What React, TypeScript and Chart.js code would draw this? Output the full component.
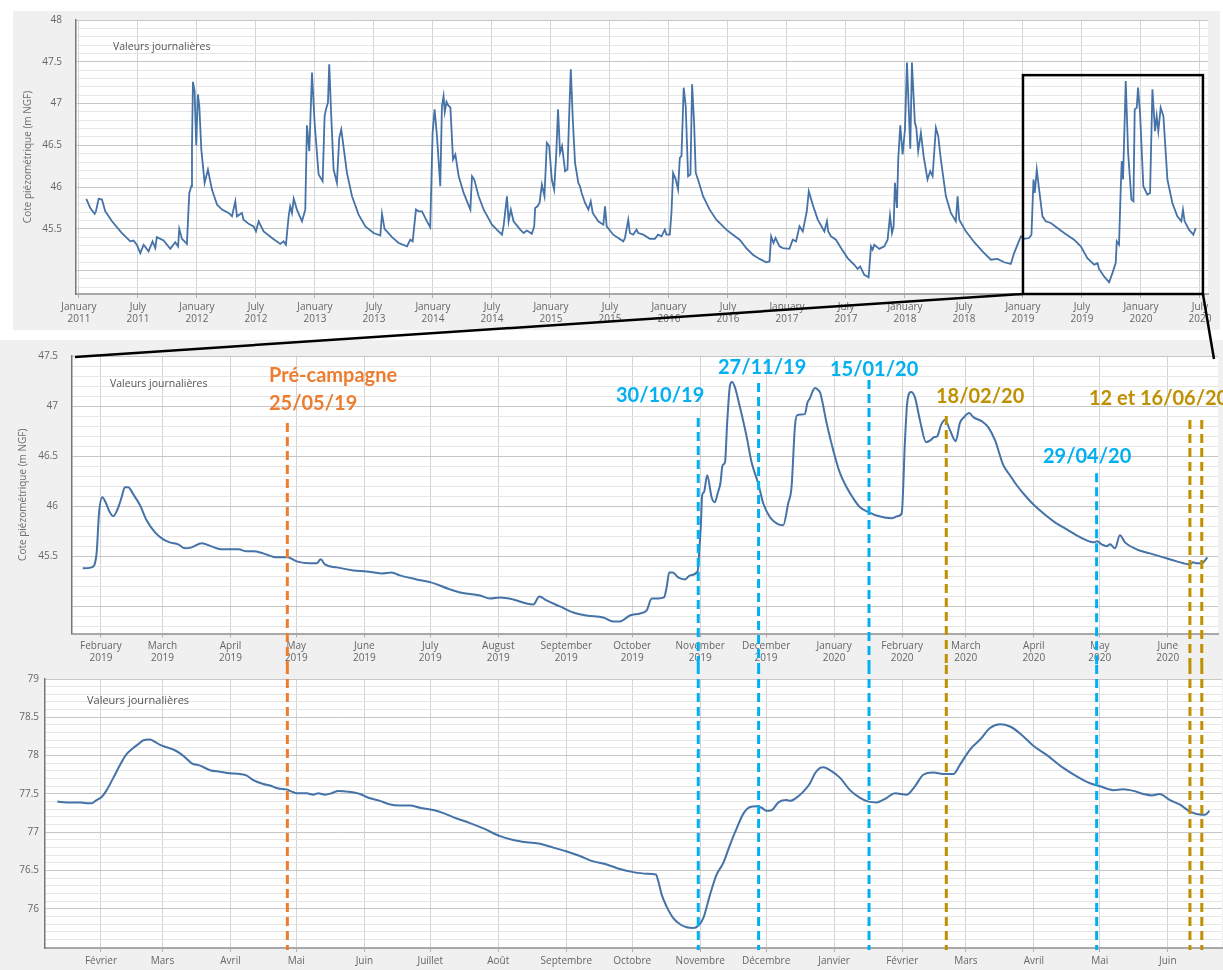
import React, { useEffect, useRef } from 'react';
import { Chart, registerables } from 'chart.js';

Chart.register(...registerables);

const FONT = '"Open Sans", "DejaVu Sans", sans-serif';
Chart.defaults.font.family = FONT;

// ---------------- Top chart: daily levels 2011–2020 (x = decimal year) ----------------
const topYears = [
  2011.062, 2011.096, 2011.133, 2011.144, 2011.167, 2011.195, 2011.223, 2011.28, 2011.364, 2011.435, 2011.463, 2011.49, 2011.52, 2011.548, 2011.59, 2011.624, 2011.647, 2011.66, 2011.717, 2011.774, 2011.816, 2011.84, 2011.85, 2011.873, 2011.915, 2011.935, 2011.952, 2011.958, 2011.966, 2011.98, 2011.994,
  2012.008, 2012.02, 2012.037, 2012.065, 2012.093, 2012.127, 2012.17, 2012.212, 2012.268, 2012.297, 2012.325, 2012.339, 2012.381, 2012.395, 2012.438, 2012.48, 2012.5, 2012.523, 2012.565, 2012.636, 2012.706, 2012.734, 2012.754, 2012.777, 2012.79, 2012.805, 2012.82, 2012.847, 2012.89, 2012.918, 2012.932, 2012.952, 2012.975, 2012.997,
  2013.031, 2013.065, 2013.082, 2013.093, 2013.11, 2013.121, 2013.138, 2013.158, 2013.186, 2013.206, 2013.223, 2013.234, 2013.271, 2013.314, 2013.37, 2013.427, 2013.497, 2013.554, 2013.568, 2013.59, 2013.653, 2013.709, 2013.78, 2013.808, 2013.828, 2013.856, 2013.879, 2013.907, 2013.949, 2013.977, 2013.997,
  2014.014, 2014.034, 2014.062, 2014.076, 2014.09, 2014.1, 2014.115, 2014.128, 2014.148, 2014.17, 2014.19, 2014.218, 2014.26, 2014.317, 2014.331, 2014.35, 2014.387, 2014.43, 2014.5, 2014.556, 2014.585, 2014.6, 2014.627, 2014.641, 2014.66, 2014.683, 2014.74, 2014.768, 2014.796, 2014.838, 2014.858, 2014.866, 2014.886, 2014.903, 2014.923, 2014.945, 2014.965, 2014.985,
  2015.007, 2015.027, 2015.044, 2015.06, 2015.077, 2015.094, 2015.12, 2015.14, 2015.156, 2015.168, 2015.185, 2015.204, 2015.232, 2015.246, 2015.26, 2015.289, 2015.317, 2015.337, 2015.354, 2015.401, 2015.444, 2015.458, 2015.472, 2015.528, 2015.57, 2015.613, 2015.627, 2015.655, 2015.669, 2015.697, 2015.725, 2015.739, 2015.782, 2015.838, 2015.88, 2015.908, 2015.937, 2015.965, 2015.979,
  2016.007, 2016.021, 2016.035, 2016.058, 2016.077, 2016.092, 2016.106, 2016.125, 2016.142, 2016.162, 2016.182, 2016.196, 2016.213, 2016.227, 2016.246, 2016.289, 2016.345, 2016.401, 2016.444, 2016.486, 2016.542, 2016.599, 2016.655, 2016.711, 2016.768, 2016.824, 2016.852, 2016.866, 2016.886, 2016.903, 2016.937, 2016.965,
  2017.021, 2017.049, 2017.077, 2017.106, 2017.134, 2017.168, 2017.185, 2017.218, 2017.261, 2017.317, 2017.339, 2017.35, 2017.373, 2017.415, 2017.458, 2017.514, 2017.571, 2017.599, 2017.621, 2017.655, 2017.692, 2017.712, 2017.726, 2017.74, 2017.782, 2017.825, 2017.853, 2017.873, 2017.89, 2017.904, 2017.915, 2017.932, 2017.943, 2017.96, 2017.98,
  2018.0, 2018.017, 2018.045, 2018.059, 2018.084, 2018.096, 2018.112, 2018.135, 2018.158, 2018.191, 2018.214, 2018.234, 2018.262, 2018.282, 2018.304, 2018.347, 2018.389, 2018.431, 2018.446, 2018.46, 2018.516, 2018.587, 2018.657, 2018.728, 2018.784, 2018.841, 2018.897, 2018.925, 2018.954, 2018.982,
  2019.01, 2019.052, 2019.072, 2019.089, 2019.1, 2019.117, 2019.137, 2019.165, 2019.193, 2019.236, 2019.292, 2019.349, 2019.433, 2019.49, 2019.546, 2019.603, 2019.631, 2019.645, 2019.687, 2019.73, 2019.758, 2019.786, 2019.795, 2019.814, 2019.829, 2019.837, 2019.848, 2019.871, 2019.891, 2019.919, 2019.936, 2019.947, 2019.964, 2019.975, 2019.992,
  2020.02, 2020.054, 2020.077, 2020.097, 2020.119, 2020.133, 2020.147, 2020.167, 2020.19, 2020.224, 2020.266, 2020.308, 2020.342, 2020.356, 2020.37, 2020.407, 2020.444, 2020.464,
];
const topValues = [
  45.86, 45.75, 45.68, 45.71, 45.86, 45.85, 45.71, 45.59, 45.45, 45.35, 45.36, 45.31, 45.21, 45.31, 45.23, 45.35, 45.27, 45.40, 45.36, 45.26, 45.34, 45.29, 45.50, 45.38, 45.32, 45.93, 46.01, 46.49, 47.26, 47.15, 46.50,
  47.11, 46.97, 46.45, 46.05, 46.21, 45.97, 45.79, 45.73, 45.69, 45.65, 45.83, 45.65, 45.69, 45.61, 45.56, 45.53, 45.47, 45.59, 45.47, 45.39, 45.32, 45.35, 45.31, 45.65, 45.77, 45.69, 45.86, 45.73, 45.59, 45.73, 46.74, 46.43, 47.37, 46.77,
  46.15, 46.07, 46.85, 46.93, 47.01, 47.47, 46.85, 46.21, 46.05, 46.59, 46.69, 46.57, 46.17, 45.89, 45.67, 45.53, 45.45, 45.42, 45.68, 45.50, 45.40, 45.33, 45.29, 45.37, 45.35, 45.73, 45.71, 45.71, 45.59, 45.52, 46.65,
  46.93, 46.61, 46.01, 46.97, 47.09, 46.90, 47.02, 46.98, 46.95, 46.33, 46.39, 46.13, 45.93, 45.73, 46.13, 46.09, 45.89, 45.73, 45.55, 45.47, 45.43, 45.55, 45.89, 45.59, 45.73, 45.59, 45.49, 45.45, 45.48, 45.44, 45.53, 45.75, 45.77, 45.81, 46.03, 45.89, 46.53, 46.49,
  46.09, 45.97, 46.37, 46.93, 46.41, 46.49, 46.19, 46.21, 46.93, 47.41, 46.81, 46.29, 46.05, 46.01, 45.93, 45.81, 45.73, 45.83, 45.69, 45.59, 45.55, 45.77, 45.53, 45.43, 45.39, 45.35, 45.39, 45.61, 45.45, 45.43, 45.49, 45.45, 45.43, 45.38, 45.38, 45.43, 45.41, 45.49, 45.43,
  45.43, 45.69, 46.17, 46.09, 45.97, 46.35, 46.37, 47.19, 46.97, 46.13, 46.15, 47.23, 46.77, 46.17, 46.09, 45.89, 45.73, 45.61, 45.55, 45.49, 45.43, 45.37, 45.27, 45.19, 45.14, 45.10, 45.11, 45.41, 45.33, 45.39, 45.29, 45.27,
  45.26, 45.37, 45.35, 45.53, 45.47, 45.71, 45.95, 45.79, 45.61, 45.47, 45.59, 45.47, 45.41, 45.37, 45.27, 45.15, 45.07, 45.02, 45.05, 44.95, 44.92, 45.29, 45.25, 45.31, 45.26, 45.29, 45.37, 45.66, 45.45, 45.53, 46.05, 45.75, 46.33, 46.74, 46.39,
  46.69, 47.49, 46.46, 47.49, 46.77, 46.71, 46.43, 46.65, 46.37, 46.09, 46.19, 46.13, 46.71, 46.61, 46.33, 45.89, 45.69, 45.59, 45.89, 45.61, 45.47, 45.34, 45.23, 45.13, 45.14, 45.10, 45.08, 45.21, 45.31, 45.41,
  45.38, 45.39, 45.43, 46.09, 45.93, 46.21, 45.97, 45.65, 45.59, 45.57, 45.51, 45.45, 45.37, 45.29, 45.15, 45.07, 45.09, 45.02, 44.93, 44.86, 44.97, 45.09, 45.35, 45.31, 46.01, 46.31, 46.09, 47.27, 46.41, 45.85, 45.83, 46.93, 46.95, 47.19, 46.89,
  46.01, 45.91, 45.93, 47.17, 46.67, 46.85, 46.67, 46.95, 46.85, 46.09, 45.81, 45.65, 45.59, 45.73, 45.59, 45.49, 45.43, 45.51,
];
const topTickValues = [2011, 2011.5, 2012, 2012.5, 2013, 2013.5, 2014, 2014.5, 2015, 2015.5, 2016, 2016.5, 2017, 2017.5, 2018, 2018.5, 2019, 2019.5, 2020, 2020.5];
const topTickMonths = ['January', 'July', 'January', 'July', 'January', 'July', 'January', 'July', 'January', 'July', 'January', 'July', 'January', 'July', 'January', 'July', 'January', 'July', 'January', 'July'];
const topTickYears = ['2011', '2011', '2012', '2012', '2013', '2013', '2014', '2014', '2015', '2015', '2016', '2016', '2017', '2017', '2018', '2018', '2019', '2019', '2020', '2020'];
// zoom frame (Jan 2019 – Jul 2020)
const zoomFrom = 2019.0;
const zoomTo = 2020.525;
const zoomLow = 44.72;
const zoomHigh = 47.34;

// ---------------- Middle chart (x = days since 1 Jan 2019) ----------------
const midDays = [
  22.7, 26.8, 29.0, 30.1, 31.6, 33.3, 34.8, 36.6, 38.9, 40.4, 41.9, 43.4, 45.7, 48.8, 51.8, 55.6, 59.4, 62.4, 66.2, 69.3, 72.3, 76.9, 81.4, 86.0, 90.5, 93.6, 97.4, 100.4, 104.9, 111.0,
  115.9, 120.2, 126.2, 129.3, 131.1, 133.0, 138.4, 146.0, 152.0, 158.9, 163.4, 167.2, 174.8, 181.3, 190.0, 194.6, 203.7, 208.2, 212.8, 218.8, 224.9, 228.0, 230.7, 234.0, 240.1, 246.2, 252.2, 259.8, 264.4, 267.4,
  272.0, 276.6, 279.6, 281.9, 284.9, 287.5, 288.7, 289.9, 291.5, 294.0, 297.1, 299.3, 302.8, 303.5, 304.3, 304.9, 305.7, 307.2, 309.2, 310.6, 312.1, 313.2, 314.2, 315.3, 316.3, 317.6, 318.5, 319.8, 322.1, 325.2,
  327.4, 330.4, 332.7, 335.8, 338.8, 341.8, 344.1, 345.6, 347.2, 348.2, 351.7, 352.8, 354.0, 355.5, 356.3, 357.8, 358.7, 361.6, 364.6, 367.7, 370.7, 373.7, 376.8, 380.9, 385.5, 391.2, 393.8, 395.8, 397.3, 398.3,
  400.0, 401.8, 404.1, 406.9, 409.0, 410.5, 412.0, 413.7, 415.5, 417.8, 420.4, 422.3, 424.2, 426.6, 428.4, 432.2, 435.2, 438.3, 442.1, 445.1, 448.2, 451.9, 455.7, 460.3, 465.6, 471.0, 475.5, 480.1, 483.1, 484.9,
  486.9, 489.2, 490.7, 493.0, 495.2, 497.5, 502.8, 508.9, 515.0, 521.1, 527.1, 528.6, 530.2, 532.5, 534.0, 535.0,
];
const midValues = [
  45.38, 45.39, 45.53, 45.93, 46.09, 46.03, 45.95, 45.90, 45.99, 46.09, 46.19, 46.19, 46.12, 46.01, 45.86, 45.74, 45.67, 45.64, 45.62, 45.58, 45.59, 45.63, 45.60, 45.57, 45.57, 45.57, 45.55, 45.55, 45.53, 45.49,
  45.49, 45.45, 45.43, 45.43, 45.47, 45.42, 45.39, 45.36, 45.35, 45.33, 45.34, 45.31, 45.27, 45.24, 45.17, 45.14, 45.11, 45.08, 45.09, 45.07, 45.03, 45.02, 45.10, 45.06, 45.00, 44.94, 44.91, 44.89, 44.85, 44.85,
  44.91, 44.93, 44.96, 45.08, 45.08, 45.09, 45.19, 45.34, 45.34, 45.29, 45.27, 45.31, 45.35, 45.53, 45.81, 46.11, 46.14, 46.31, 46.09, 46.04, 46.14, 46.23, 46.41, 46.44, 46.84, 47.21, 47.24, 47.19, 46.99, 46.69,
  46.44, 46.23, 46.03, 45.89, 45.83, 45.81, 46.03, 46.19, 46.81, 46.91, 46.92, 47.03, 47.08, 47.16, 47.18, 47.16, 47.13, 46.83, 46.56, 46.33, 46.19, 46.08, 45.99, 45.94, 45.90, 45.88, 45.90, 45.93, 46.66, 47.03,
  47.14, 47.09, 46.86, 46.64, 46.66, 46.69, 46.70, 46.81, 46.86, 46.76, 46.65, 46.83, 46.89, 46.93, 46.89, 46.85, 46.79, 46.66, 46.41, 46.31, 46.21, 46.11, 46.02, 45.93, 45.84, 45.77, 45.71, 45.66, 45.64, 45.65,
  45.62, 45.60, 45.62, 45.58, 45.71, 45.64, 45.57, 45.53, 45.49, 45.45, 45.42, 45.44, 45.43, 45.43, 45.46, 45.49,
];
const midTickDays = [31, 59, 90, 120, 151, 181, 212, 243, 273, 304, 334, 365, 396, 425, 456, 486, 517];
const midTickMonths = ['February', 'March', 'April', 'May', 'June', 'July', 'August', 'September', 'October', 'November', 'December', 'January', 'February', 'March', 'April', 'May', 'June'];
const midTickYears = ['2019', '2019', '2019', '2019', '2019', '2019', '2019', '2019', '2019', '2019', '2019', '2020', '2020', '2020', '2020', '2020', '2020'];

// ---------------- Bottom chart (x = days since 1 Jan 2019) ----------------
const lowDays = [
  11.1, 15.4, 21.4, 24.5, 26.8, 29.0, 31.3, 33.6, 36.6, 39.7, 42.4, 45.7, 48.0, 50.3, 53.3, 55.6, 57.9, 60.9, 63.9, 67.0, 70.0, 72.3, 76.1, 80.7, 85.2, 89.8, 94.3, 97.4, 100.4, 104.9,
  108.0, 111.8, 115.6, 117.1, 120.2, 124.7, 127.7, 130.0, 133.1, 136.1, 139.1, 143.7, 149.0, 152.8, 158.1, 161.9, 167.2, 171.8, 176.3, 182.4, 187.0, 193.1, 199.1, 205.2, 212.8, 218.8, 224.9, 231.0, 237.1, 243.2,
  249.2, 255.3, 261.4, 267.4, 273.5, 279.6, 283.8, 284.9, 286.4, 288.7, 291.7, 294.8, 297.8, 300.8, 303.1, 305.4, 308.5, 311.5, 314.5, 317.6, 320.6, 323.6, 326.7, 329.7, 332.0, 334.3, 336.6, 339.6, 343.4, 344.9,
  348.7, 352.5, 354.0, 356.3, 358.6, 360.1, 363.1, 367.7, 372.2, 376.8, 380.6, 384.4, 389.0, 392.7, 398.1, 401.8, 405.6, 410.2, 414.7, 419.3, 422.3, 426.9, 431.5, 436.0, 440.6, 445.1, 449.7, 455.7, 461.8, 469.4,
  475.5, 481.6, 486.1, 492.2, 496.7, 501.3, 505.9, 509.7, 513.2, 518.0, 522.6, 527.1, 532.5, 534.0, 536.0,
];
const lowValues = [
  77.40, 77.39, 77.39, 77.38, 77.38, 77.42, 77.46, 77.55, 77.71, 77.88, 78.01, 78.10, 78.15, 78.20, 78.21, 78.18, 78.14, 78.11, 78.08, 78.03, 77.96, 77.90, 77.87, 77.81, 77.79, 77.77, 77.76, 77.74, 77.68, 77.63,
  77.61, 77.57, 77.56, 77.54, 77.51, 77.51, 77.49, 77.51, 77.49, 77.51, 77.54, 77.53, 77.50, 77.45, 77.41, 77.37, 77.35, 77.35, 77.32, 77.29, 77.25, 77.18, 77.12, 77.05, 76.95, 76.90, 76.87, 76.85, 76.80, 76.75,
  76.69, 76.62, 76.58, 76.52, 76.48, 76.46, 76.45, 76.36, 76.19, 76.03, 75.88, 75.80, 75.76, 75.75, 75.78, 75.88, 76.19, 76.45, 76.60, 76.84, 77.05, 77.24, 77.33, 77.34, 77.32, 77.28, 77.29, 77.39, 77.42, 77.41,
  77.47, 77.58, 77.64, 77.77, 77.84, 77.85, 77.81, 77.71, 77.55, 77.45, 77.40, 77.39, 77.45, 77.51, 77.49, 77.60, 77.75, 77.78, 77.76, 77.76, 77.88, 78.08, 78.21, 78.36, 78.41, 78.38, 78.29, 78.13, 78.01, 77.84,
  77.73, 77.64, 77.60, 77.55, 77.56, 77.54, 77.50, 77.48, 77.50, 77.42, 77.36, 77.27, 77.23, 77.23, 77.28,
];
const lowTickMonths = ['Février', 'Mars', 'Avril', 'Mai', 'Juin', 'Juillet', 'Août', 'Septembre', 'Octobre', 'Novembre', 'Décembre', 'Janvier', 'Février', 'Mars', 'Avril', 'Mai', 'Juin'];

// ---------------- Field campaign markers (days since 1 Jan 2019) ----------------
const markerDays = [115.9, 303.1, 330.6, 380.9, 416.1, 484.6, 527.1, 532.5];
const markerKinds = ['pre', 'blue', 'blue', 'blue', 'gold', 'blue', 'gold', 'gold'];
const markerTopValues = [46.83, 46.88, 47.23, 47.26, 46.90, 46.33, 46.86, 46.86];
const markerTexts = ['Pré-campagne', '25/05/19', '30/10/19', '27/11/19', '15/01/20', '18/02/20', '29/04/20', '12 et 16/06/20'];
const markerTextKinds = ['pre', 'pre', 'blue', 'blue', 'blue', 'gold', 'blue', 'gold'];

const KIND_COLOR: Record<string, string> = { pre: '#ED7D31', blue: '#00B0F0', gold: '#BF9000' };
const LINE_COLOR = '#4572A7';
const PANEL_BG = '#f0f0f0';

// layout boxes (page pixels)
const TOP = { left: 13, top: 11, w: 1207, h: 319 };
const MID = { left: 0, top: 340, w: 1223, h: 325 };
const LOW = { left: 0, top: 665, w: 1223, h: 305 };
const TEXT_POS = [
  { left: 269, top: 362 }, { left: 269, top: 390 }, { left: 616, top: 382 }, { left: 718, top: 354 },
  { left: 830, top: 356 }, { left: 936, top: 383 }, { left: 1043, top: 443 }, { left: 1089, top: 385 },
];

function tenthTicks(min: number, max: number) {
  const out: number[] = [];
  for (let t = Math.ceil(min * 10 - 1e-6); t <= Math.floor(max * 10 + 1e-6); t++) out.push(t / 10);
  return out;
}
const isMajor = (v: number) => Math.round(v * 10) % 5 === 0;

function yScale(min: number, max: number, firstLabel: number, width: number, gap: number, titlePad: number | null) {
  const ticks = tenthTicks(min, max);
  return {
    type: 'linear',
    min,
    max,
    afterBuildTicks: (s: any) => { s.ticks = ticks.map((v) => ({ value: v })); },
    afterFit: (s: any) => { s.width = width; },
    ticks: {
      autoSkip: false,
      padding: 0,
      color: '#666',
      font: { family: FONT, size: 10 },
      callback: (v: any) => (isMajor(+v) && +v >= firstLabel - 1e-6 ? String(Math.round(+v * 10) / 10) : ''),
    },
    grid: {
      drawTicks: true,
      tickLength: gap,
      tickColor: 'rgba(0,0,0,0)',
      lineWidth: 1,
      color: (c: any) => (c.tick && isMajor(c.tick.value) ? '#c6c6c6' : '#e6e6e6'),
    },
    border: { color: '#777', width: 1.5 },
    title: titlePad === null
      ? { display: false }
      : {
          display: true,
          text: 'Cote piézométrique (m NGF)',
          color: '#707070',
          font: { family: FONT, size: 10 },
          padding: { top: titlePad, bottom: 0 },
        },
  };
}

function xScale(min: number, max: number, tickVals: number[], labels: (string | string[])[], height: number, pad: number) {
  return {
    type: 'linear',
    min,
    max,
    afterBuildTicks: (s: any) => { s.ticks = tickVals.map((v) => ({ value: v })); },
    afterFit: (s: any) => { s.height = height; },
    ticks: {
      autoSkip: false,
      maxRotation: 0,
      minRotation: 0,
      padding: pad,
      color: '#666',
      font: { family: FONT, size: 10 },
      callback: (_v: any, i: number) => labels[i],
    },
    grid: { color: '#d4d4d4', lineWidth: 1, tickLength: 4, tickColor: '#b0b0b0' },
    border: { color: '#a8a8a8', width: 2 },
  };
}

const panelPlugin = {
  id: 'panel',
  beforeDraw(chart: any, _a: any, opts: any) {
    const { ctx, width, height, chartArea: a } = chart;
    ctx.save();
    ctx.fillStyle = PANEL_BG;
    ctx.fillRect(0, 0, width, height);
    ctx.fillStyle = '#ffffff';
    ctx.fillRect(a.left, a.top, a.right - a.left, a.bottom - a.top);
    ctx.restore();
  },
  beforeDatasetsDraw(chart: any, _a: any, opts: any) {
    const { ctx, chartArea: a } = chart;
    ctx.save();
    ctx.fillStyle = '#555';
    ctx.font = `${opts.size}px ${FONT}`;
    ctx.textAlign = 'left';
    ctx.textBaseline = 'middle';
    ctx.fillText('Valeurs journalières', a.left + opts.dx, a.top + opts.dy);
    ctx.restore();
  },
};

const markerPlugin = {
  id: 'markers',
  afterDraw(chart: any, _a: any, opts: any) {
    const { ctx, chartArea } = chart;
    const x = chart.scales.x;
    const y = chart.scales.y;
    ctx.save();
    ctx.lineWidth = 3;
    ctx.setLineDash([9, 5]);
    markerDays.forEach((d, i) => {
      const px = x.getPixelForValue(d);
      const y0 = opts.fromTop ? 0 : y.getPixelForValue(markerTopValues[i]);
      const y1 = opts.fromTop ? chartArea.bottom + 2 : chart.height;
      ctx.strokeStyle = KIND_COLOR[markerKinds[i]];
      ctx.beginPath();
      ctx.moveTo(px, y0);
      ctx.lineTo(px, y1);
      ctx.stroke();
    });
    ctx.restore();
  },
};

const zoomBoxPlugin = {
  id: 'zoombox',
  afterDraw(chart: any) {
    const { ctx } = chart;
    const x = chart.scales.x;
    const y = chart.scales.y;
    const l = x.getPixelForValue(zoomFrom);
    const r = x.getPixelForValue(zoomTo);
    const t = y.getPixelForValue(zoomHigh);
    const b = y.getPixelForValue(zoomLow);
    ctx.save();
    ctx.strokeStyle = '#000';
    ctx.lineWidth = 2.5;
    ctx.strokeRect(l, t, r - l, b - t);
    ctx.restore();
  },
};

function series(xs: number[], ys: number[]) {
  const n = Math.min(xs.length, ys.length);
  const out: { x: number; y: number }[] = [];
  for (let i = 0; i < n; i++) out.push({ x: xs[i], y: ys[i] });
  return out;
}

export default function App() {
  const topRef = useRef<HTMLCanvasElement>(null);
  const midRef = useRef<HTMLCanvasElement>(null);
  const lowRef = useRef<HTMLCanvasElement>(null);
  const l1Ref = useRef<SVGLineElement>(null);
  const l2Ref = useRef<SVGLineElement>(null);

  useEffect(() => {
    const common = {
      responsive: false,
      animation: false,
      devicePixelRatio: 1,
      events: [],
    };

    const top = new Chart(topRef.current as HTMLCanvasElement, {
      type: 'line',
      data: {
        datasets: [{
          data: series(topYears, topValues),
          borderColor: LINE_COLOR,
          borderWidth: 1.8,
          pointRadius: 0,
          tension: 0,
          fill: false,
        }],
      },
      options: {
        ...common,
        layout: { padding: { left: 0, top: 9, right: 12, bottom: 0 } },
        scales: {
          x: xScale(2010.975, 2020.568, topTickValues, topTickMonths.map((m, i) => [m, topTickYears[i]]), 36, 3),
          y: yScale(44.72, 48, 45.5, 63, 14, 9),
        },
        plugins: {
          legend: { display: false },
          tooltip: { enabled: false },
          panel: { dx: 37, dy: 27, size: 10.5 },
        },
      } as any,
      plugins: [panelPlugin, zoomBoxPlugin],
    } as any);

    const mid = new Chart(midRef.current as HTMLCanvasElement, {
      type: 'line',
      data: {
        datasets: [{
          data: series(midDays, midValues),
          borderColor: LINE_COLOR,
          borderWidth: 2,
          pointRadius: 0,
          cubicInterpolationMode: 'monotone',
          fill: false,
        }],
      },
      options: {
        ...common,
        layout: { padding: { left: 0, top: 16, right: 5, bottom: 0 } },
        scales: {
          x: xScale(17.8, 539.9, midTickDays, midTickMonths.map((m, i) => [m, midTickYears[i]]), 31.5, 2.5),
          y: yScale(44.73, 47.5, 45.5, 72, 14, 17),
        },
        plugins: {
          legend: { display: false },
          tooltip: { enabled: false },
          panel: { dx: 38, dy: 28, size: 10.5 },
          markers: { fromTop: false },
        },
      } as any,
      plugins: [panelPlugin, markerPlugin],
    } as any);

    const low = new Chart(lowRef.current as HTMLCanvasElement, {
      type: 'line',
      data: {
        datasets: [{
          data: series(lowDays, lowValues),
          borderColor: LINE_COLOR,
          borderWidth: 2,
          pointRadius: 0,
          cubicInterpolationMode: 'monotone',
          fill: false,
        }],
      },
      options: {
        ...common,
        layout: { padding: { left: 0, top: 14, right: 1, bottom: 0 } },
        scales: {
          x: xScale(5.49, 541.7, midTickDays, lowTickMonths, 22, 3),
          y: yScale(75.49, 79, 76, 45, 6, null),
        },
        plugins: {
          legend: { display: false },
          tooltip: { enabled: false },
          panel: { dx: 42, dy: 22, size: 11 },
          markers: { fromTop: true },
        },
      } as any,
      plugins: [panelPlugin, markerPlugin],
    } as any);

    // connector lines from the zoom frame to the middle chart
    const tx = top.scales.x;
    const ty = top.scales.y;
    const bx0 = TOP.left + tx.getPixelForValue(zoomFrom);
    const bx1 = TOP.left + tx.getPixelForValue(zoomTo);
    const by = TOP.top + ty.getPixelForValue(zoomLow);
    const ma = mid.chartArea;
    const set = (el: SVGLineElement | null, x1: number, y1: number, x2: number, y2: number) => {
      if (!el) return;
      el.setAttribute('x1', String(x1));
      el.setAttribute('y1', String(y1));
      el.setAttribute('x2', String(x2));
      el.setAttribute('y2', String(y2));
    };
    set(l1Ref.current, bx0, by, MID.left + ma.left + 3, MID.top + ma.top + 1);
    set(l2Ref.current, bx1, by, MID.left + ma.right - 4, MID.top + ma.top + 3);

    return () => {
      top.destroy();
      mid.destroy();
      low.destroy();
    };
  }, []);

  const canvasStyle = (b: { left: number; top: number; w: number; h: number }) => ({
    position: 'absolute' as const,
    left: b.left,
    top: b.top,
    width: b.w,
    height: b.h,
  });

  return (
    <div style={{ position: 'absolute', left: 0, top: 0, width: 1223, height: 970, background: '#fff', overflow: 'hidden' }}>
      <canvas ref={topRef} width={TOP.w} height={TOP.h} style={canvasStyle(TOP)} />
      <canvas ref={midRef} width={MID.w} height={MID.h} style={canvasStyle(MID)} />
      <canvas ref={lowRef} width={LOW.w} height={LOW.h} style={canvasStyle(LOW)} />
      <svg width={1223} height={970} style={{ position: 'absolute', left: 0, top: 0, pointerEvents: 'none' }}>
        <line ref={l1Ref} x1={0} y1={0} x2={0} y2={0} stroke="#000" strokeWidth={2.5} />
        <line ref={l2Ref} x1={0} y1={0} x2={0} y2={0} stroke="#000" strokeWidth={2.5} />
      </svg>
      {markerTexts.map((t, i) => (
        <div
          key={i}
          style={{
            position: 'absolute',
            left: TEXT_POS[i].left,
            top: TEXT_POS[i].top,
            fontFamily: 'Lato, "Open Sans", sans-serif',
            fontWeight: 700,
            fontSize: 20,
            lineHeight: '24px',
            whiteSpace: 'nowrap',
            color: KIND_COLOR[markerTextKinds[i]],
          }}
        >
          {t}
        </div>
      ))}
    </div>
  );
}
